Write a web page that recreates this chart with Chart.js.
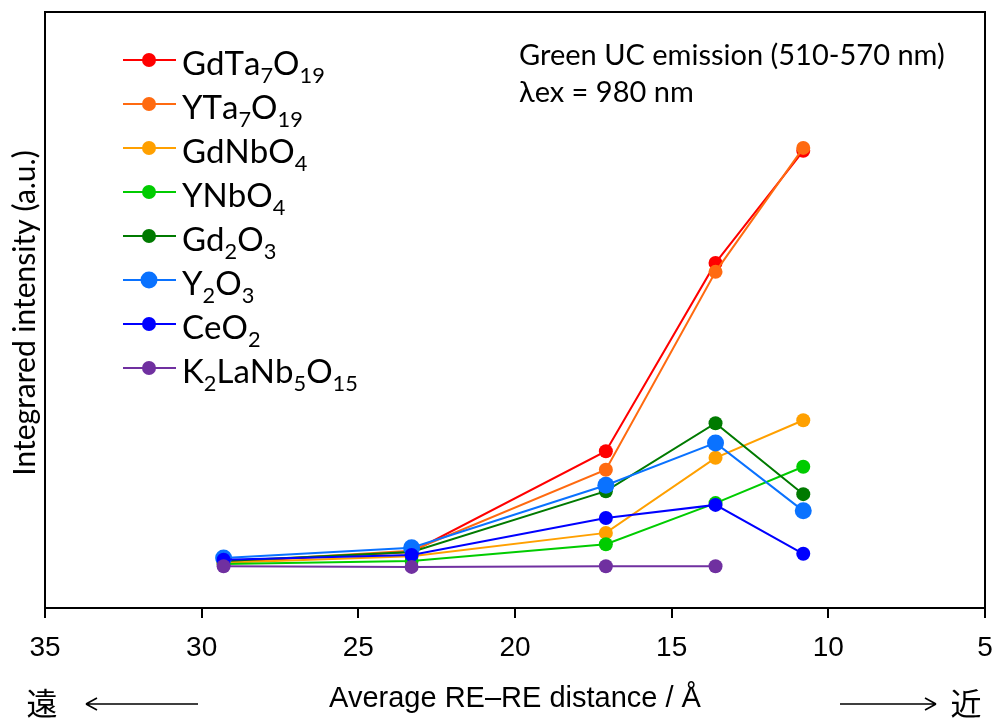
<!DOCTYPE html>
<html>
<head>
<meta charset="utf-8">
<script src="https://cdn.jsdelivr.net/npm/chart.js@4"></script>
<style>
  html, body { margin: 0; padding: 0; background: #fff; }
  #wrap { width: 998px; height: 720px; }
</style>
</head>
<body>
<div id="wrap"><canvas id="chartCanvas" width="998" height="720"></canvas></div>
<script>
// Average RE-RE distance (Angstrom) for each sample group
const xDistance = [29.3, 23.3, 17.1, 13.6, 10.8];
const xTicks = [35, 30, 25, 20, 15, 10, 5];

const seriesNames = ["GdTa7O19", "YTa7O19", "GdNbO4", "YNbO4", "Gd2O3", "Y2O3", "CeO2", "K2LaNb5O15"];
const seriesColors = ["#ff0000", "#ff6a10", "#ffa000", "#00cc00", "#007a00", "#0a72ff", "#0000ff", "#7030a0"];

// integrated intensity (a.u.)
const gdTa7O19 = [7.7, 9.4, 26.3, 57.9, 76.7];
const yTa7O19 = [7.7, 9.6, 23.2, 56.4, 77.2];
const gdNbO4 = [7.6, 8.7, 12.6, 25.2, 31.5];
const yNbO4 = [7.4, 7.9, 10.7, 17.6, 23.7];
const gd2O3 = [7.9, 9.4, 19.6, 31.0, 19.1];
const y2O3 = [8.4, 10.1, 20.6, 27.7, 16.3];
const ceO2 = [8.1, 8.9, 15.1, 17.3, 9.1];
const k2LaNb5O15 = [7.0, 6.9, 7.0, 7.0];

const seriesValues = [gdTa7O19, yTa7O19, gdNbO4, yNbO4, gd2O3, y2O3, ceO2, k2LaNb5O15];

const BASE_FONT = "Lato, 'Open Sans', sans-serif";
const AXIS_FONT = "'Liberation Sans', sans-serif";

// draw a chemical formula, every digit as a subscript
function drawFormula(ctx, text, x, y, size) {
    let cx = x;
    for (const ch of text) {
        const isDigit = ch >= "0" && ch <= "9";
        const fs = isDigit ? size * 0.66 : size;
        ctx.font = fs + "px " + BASE_FONT;
        ctx.fillText(ch, cx, isDigit ? y + size * 0.25 : y);
        cx += ctx.measureText(ch).width;
    }
}

function drawArrow(ctx, x1, x2, y) {
    const dir = x2 > x1 ? 1 : -1;
    ctx.beginPath();
    ctx.moveTo(x1, y);
    ctx.lineTo(x2, y);
    ctx.moveTo(x2, y);
    ctx.lineTo(x2 - dir * 11, y - 6);
    ctx.moveTo(x2, y);
    ctx.lineTo(x2 - dir * 11, y + 6);
    ctx.stroke();
}

const decorPlugin = {
    id: "decor",
    afterDraw(chart) {
        const ctx = chart.ctx;
        const area = chart.chartArea;
        ctx.save();

        // plot frame
        ctx.strokeStyle = "#000";
        ctx.lineWidth = 2;
        ctx.strokeRect(area.left, area.top, area.right - area.left, area.bottom - area.top);

        // legend
        ctx.textBaseline = "alphabetic";
        ctx.fillStyle = "#000";
        seriesNames.forEach((name, i) => {
            const cy = 60 + i * 44;
            ctx.strokeStyle = seriesColors[i];
            ctx.lineWidth = 2;
            ctx.beginPath();
            ctx.moveTo(123, cy);
            ctx.lineTo(176, cy);
            ctx.stroke();
            ctx.fillStyle = seriesColors[i];
            ctx.beginPath();
            ctx.arc(149, cy, i === 5 ? 8.5 : 7, 0, Math.PI * 2);
            ctx.fill();
            ctx.fillStyle = "#000";
            drawFormula(ctx, name, 182, cy + 15, 33);
        });

        // annotation
        ctx.font = "29px " + BASE_FONT;
        ctx.textAlign = "left";
        ctx.fillText("Green UC emission (510-570 nm)", 519, 65);
        ctx.fillText("\u03bbex = 980 nm", 519, 102);

        // y title
        ctx.save();
        ctx.translate(25, 313);
        ctx.rotate(-Math.PI / 2);
        ctx.textAlign = "center";
        ctx.textBaseline = "middle";
        ctx.font = "30px " + BASE_FONT;
        ctx.fillText("Integrared intensity (a.u.)", 0, 0);
        ctx.restore();

        // x title with far / near arrows
        ctx.textAlign = "center";
        ctx.textBaseline = "alphabetic";
        ctx.font = "29px " + AXIS_FONT;
        ctx.fillText("Average RE\u2013RE distance / \u00c5", 515, 707);
        ctx.font = "31px 'Noto Sans CJK JP', sans-serif";
        ctx.textBaseline = "middle";
        ctx.fillText("\u9060", 42, 703);
        ctx.fillText("\u8fd1", 966, 703);
        ctx.strokeStyle = "#000";
        ctx.lineWidth = 1.6;
        drawArrow(ctx, 198, 86, 704);
        drawArrow(ctx, 840, 936, 704);

        ctx.restore();
    }
};

const datasets = seriesNames.map((name, i) => ({
    label: name,
    data: seriesValues[i].map((v, j) => ({ x: xDistance[j], y: v })),
    borderColor: seriesColors[i],
    backgroundColor: seriesColors[i],
    borderWidth: 2,
    pointRadius: i === 5 ? 8.5 : 7,
    pointBorderWidth: 0,
    pointHoverRadius: i === 5 ? 8.5 : 7,
    fill: false,
    tension: 0,
    order: -i
}));

new Chart(document.getElementById("chartCanvas").getContext("2d"), {
    type: "line",
    data: { datasets: datasets },
    options: {
        responsive: false,
        animation: false,
        events: [],
        layout: { padding: { top: 12, right: 13, left: 0, bottom: 0 } },
        plugins: { legend: { display: false }, tooltip: { enabled: false } },
        scales: {
            x: {
                type: "linear",
                reverse: true,
                min: 5,
                max: 35,
                afterBuildTicks: scale => { scale.ticks = xTicks.map(v => ({ value: v })); },
                afterFit: scale => {
                    scale.height = 112;
                    scale.paddingLeft = 0;
                    scale.paddingRight = 0;
                },
                grid: {
                    drawOnChartArea: false,
                    drawTicks: true,
                    tickLength: 10,
                    color: "#000",
                    lineWidth: 2
                },
                border: { display: false },
                ticks: {
                    color: "#000",
                    padding: 13,
                    maxRotation: 0,
                    font: { family: AXIS_FONT, size: 28 }
                }
            },
            y: {
                min: 0,
                max: 100,
                afterFit: scale => { scale.width = 45; },
                grid: { display: false },
                border: { display: false },
                ticks: { display: false }
            }
        }
    },
    plugins: [decorPlugin]
});
</script>
</body>
</html>
